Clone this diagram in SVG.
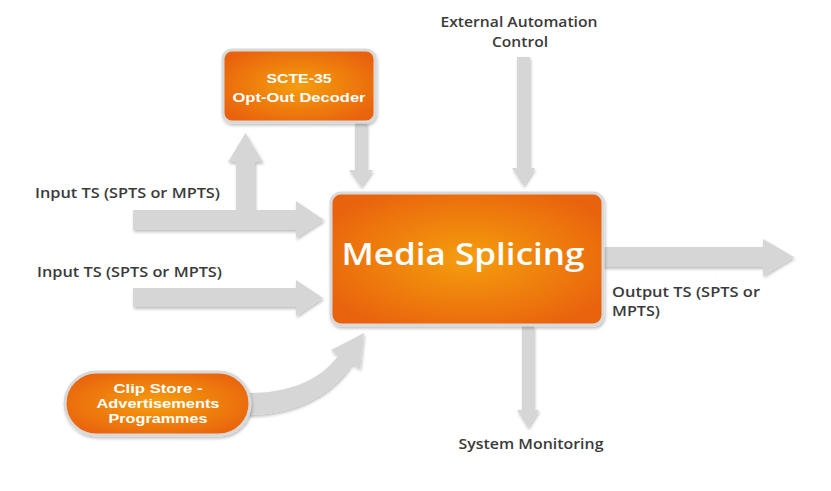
<svg xmlns="http://www.w3.org/2000/svg" width="831" height="491" viewBox="0 0 831 491">
<defs>
<radialGradient id="og" cx="50%" cy="50%" r="60%">
<stop offset="0" stop-color="#f59e12"/>
<stop offset="1" stop-color="#e9620b"/>
</radialGradient>
<filter id="sh" x="-10%" y="-10%" width="130%" height="130%">
<feDropShadow dx="1" dy="2" stdDeviation="1.5" flood-color="#000" flood-opacity="0.25"/>
</filter>
</defs>
<style>
.arr{fill:#d6d6d6;filter:url(#sh)}
.box{fill:url(#og);stroke:#d9d9d9;stroke-width:3;filter:url(#sh)}
.lbl{font-family:"Open Sans","Liberation Sans",sans-serif;font-size:14px;fill:#3a3a3a;font-weight:600}
.nt{font-family:"Liberation Sans","Open Sans",sans-serif;font-size:13.5px;fill:#ffffff;font-weight:700;text-anchor:middle}
</style>
<rect width="831" height="491" fill="#ffffff"/>
<g id="connectors">
<path class="arr" d="M133 210 L236 210 L236 162 L228 162 L245.5 133 L263 162 L255 162 L255 210 L296 210 L296 201 L324 220 L296 238 L296 230 L133 230 Z"/>
<path class="arr" d="M133 288 L296 288 L296 280 L323 298 L296 316 L296 307 L133 307 Z"/>
<path class="arr" d="M355 122 L367 122 L367 170 L373 170 L361 187 L349 170 L355 170 Z"/>
<path class="arr" d="M517 57 L530 57 L530 168 L535 168 L523.5 186 L512 168 L517 168 Z"/>
<path class="arr" d="M603 247 L763 247 L763 239 L794 257 L763 276 L763 267 L603 267 Z"/>
<path class="arr" d="M522 326 L534 326 L534 410 L539 410 L528 428 L517 410 L522 410 Z"/>
<path class="arr" d="M248 393 C290 393 320 380 338 356 L331 350 L364 333 L360 369 L352 364 C330 398 290 415 248 415 Z"/>
</g>
<g id="media-splicing">
<rect class="box" x="331" y="193" width="272" height="132" rx="10"/>
<text x="463" y="265" font-family="'Open Sans','Liberation Sans',sans-serif" font-size="31" font-weight="600" fill="#fff" text-anchor="middle" textLength="243" lengthAdjust="spacingAndGlyphs">Media Splicing</text>
</g>
<g id="scte35">
<rect class="box" x="223" y="50" width="152" height="72" rx="9"/>
<text class="nt" x="299" y="83" textLength="65" lengthAdjust="spacingAndGlyphs">SCTE-35</text>
<text class="nt" x="299" y="102" textLength="133" lengthAdjust="spacingAndGlyphs">Opt-Out Decoder</text>
</g>
<g id="clip-store">
<rect class="box" x="65" y="372" width="185" height="63" rx="31.5"/>
<text class="nt" x="158" y="393" font-size="13" textLength="89" lengthAdjust="spacingAndGlyphs">Clip Store -</text>
<text class="nt" x="158" y="408" font-size="13" textLength="123" lengthAdjust="spacingAndGlyphs">Advertisements</text>
<text class="nt" x="158" y="423" font-size="13" textLength="99" lengthAdjust="spacingAndGlyphs">Programmes</text>
</g>
<g id="labels">
<text class="lbl" x="35" y="198" textLength="185" lengthAdjust="spacingAndGlyphs">Input TS (SPTS or MPTS)</text>
<text class="lbl" x="37" y="277" textLength="185" lengthAdjust="spacingAndGlyphs">Input TS (SPTS or MPTS)</text>
<text class="lbl" x="519" y="27" text-anchor="middle" textLength="157" lengthAdjust="spacingAndGlyphs">External Automation</text>
<text class="lbl" x="520" y="47" text-anchor="middle" textLength="56" lengthAdjust="spacingAndGlyphs">Control</text>
<text class="lbl" x="612" y="297" textLength="148" lengthAdjust="spacingAndGlyphs">Output TS (SPTS or</text>
<text class="lbl" x="612" y="316" textLength="48" lengthAdjust="spacingAndGlyphs">MPTS)</text>
<text class="lbl" x="531" y="449" text-anchor="middle" textLength="145" lengthAdjust="spacingAndGlyphs">System Monitoring</text>
</g>
</svg>
